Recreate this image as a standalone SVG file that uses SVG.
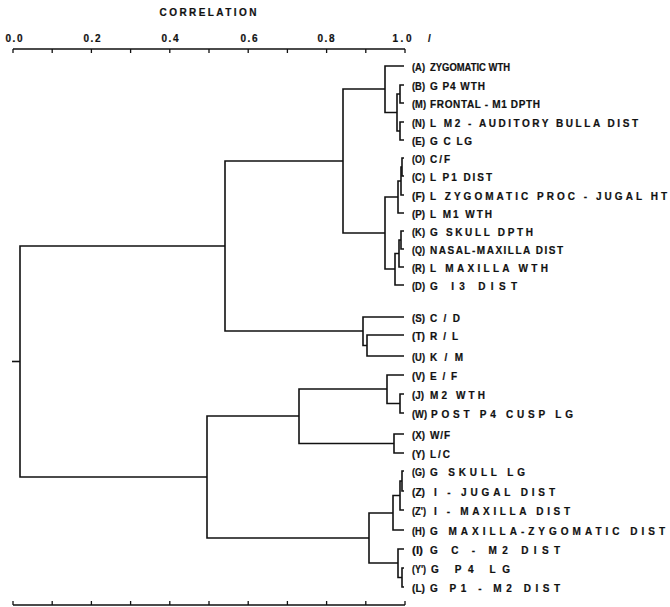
<svg xmlns="http://www.w3.org/2000/svg" width="670" height="607" viewBox="0 0 670 607">
<style>
text{font-family:"Liberation Sans",Arial,sans-serif;font-weight:bold;font-size:10px;fill:#111;stroke:#111;stroke-width:0.2}
.ax{text-anchor:middle}
.ln{fill:none;stroke:#111;stroke-width:1.6;stroke-linejoin:miter}
.axl{fill:none;stroke:#111;stroke-width:1.3}
</style>
<rect width="670" height="607" fill="#fff"/>
<g id="axis-top">
<text x="208" y="16" class="ax" textLength="97" lengthAdjust="spacing">CORRELATION</text>
<text x="14" y="42" class="ax" textLength="17" lengthAdjust="spacing">0.0</text>
<text x="92" y="42" class="ax" textLength="17" lengthAdjust="spacing">0.2</text>
<text x="170" y="42" class="ax" textLength="17" lengthAdjust="spacing">0.4</text>
<text x="249" y="42" class="ax" textLength="17" lengthAdjust="spacing">0.6</text>
<text x="326" y="42" class="ax" textLength="17" lengthAdjust="spacing">0.8</text>
<text x="402" y="42" class="ax" textLength="19" lengthAdjust="spacing">1.0</text>
<text x="428" y="42">/</text>
<path class="axl" d="M13 49H405M13 49v4M52.2 49v4M91.4 49v4M130.6 49v4M169.8 49v4M209 49v4M248.2 49v4M287.4 49v4M326.6 49v4M365.8 49v4M405 49v4"/>
</g>
<g id="axis-bottom">
<path class="axl" d="M13 605H405M13 605v-4M52.2 605v-4M91.4 605v-4M130.6 605v-4M169.8 605v-4M209 605v-4M248.2 605v-4M287.4 605v-4M326.6 605v-4M365.8 605v-4M405 605v-4"/>
</g>
<g id="connectors">
<path class="ln" d="M404 66H385V112.5H397"/>
<path class="ln" d="M400 94H397V131H400"/>
<path class="ln" d="M404 85H400V103H404"/>
<path class="ln" d="M404 122H400V140H404"/>
<path class="ln" d="M385 89H343V233H385"/>
<path class="ln" d="M398 197H385V269H395"/>
<path class="ln" d="M401 181H398V213H404"/>
<path class="ln" d="M402 167H401V195H404"/>
<path class="ln" d="M404 158H402V176H404"/>
<path class="ln" d="M399 253.5H395V285H404"/>
<path class="ln" d="M401 240H399V267H404"/>
<path class="ln" d="M404 231H401V249H404"/>
<path class="ln" d="M404 317H363V345.5H367"/>
<path class="ln" d="M404 335H367V356H404"/>
<path class="ln" d="M343 161H225V331H363"/>
<path class="ln" d="M387 389H299V443.5H394"/>
<path class="ln" d="M404 375H387V403.5H400"/>
<path class="ln" d="M404 394H400V413H404"/>
<path class="ln" d="M404 434H394V453H404"/>
<path class="ln" d="M393 513H369V563H398"/>
<path class="ln" d="M400 495.5H393V530H404"/>
<path class="ln" d="M402 481H400V510H404"/>
<path class="ln" d="M404 471H402V491H404"/>
<path class="ln" d="M404 549H398V577.5H402"/>
<path class="ln" d="M404 568H402V587H404"/>
<path class="ln" d="M299 416H207V538H369"/>
<path class="ln" d="M225 246H20V477H207"/>
<path class="ln" d="M12 361.5H20"/>
</g>
<g id="node-A"><text x="412" y="71" textLength="13" lengthAdjust="spacingAndGlyphs">(A)</text><text x="430" y="71" textLength="80" lengthAdjust="spacingAndGlyphs">ZYGOMATIC WTH</text></g>
<g id="node-B"><text x="412" y="90" textLength="13" lengthAdjust="spacingAndGlyphs">(B)</text><text x="430" y="90" textLength="55" lengthAdjust="spacing">G P4 WTH</text></g>
<g id="node-M"><text x="412" y="108" textLength="14" lengthAdjust="spacingAndGlyphs">(M)</text><text x="430" y="108" textLength="110" lengthAdjust="spacing">FRONTAL - M1 DPTH</text></g>
<g id="node-N"><text x="412" y="127" textLength="13" lengthAdjust="spacingAndGlyphs">(N)</text><text x="430" y="127" textLength="208" lengthAdjust="spacing">L M2 - AUDITORY BULLA DIST</text></g>
<g id="node-E"><text x="412" y="145" textLength="13" lengthAdjust="spacingAndGlyphs">(E)</text><text x="430" y="145" textLength="42" lengthAdjust="spacing">G C LG</text></g>
<g id="node-O"><text x="412" y="163" textLength="13" lengthAdjust="spacingAndGlyphs">(O)</text><text x="430" y="163" textLength="20" lengthAdjust="spacing">C/F</text></g>
<g id="node-C"><text x="412" y="181" textLength="13" lengthAdjust="spacingAndGlyphs">(C)</text><text x="430" y="181" textLength="62" lengthAdjust="spacing">L P1 DIST</text></g>
<g id="node-F"><text x="412" y="200" textLength="13" lengthAdjust="spacingAndGlyphs">(F)</text><text x="430" y="200" textLength="237" lengthAdjust="spacing">L ZYGOMATIC PROC - JUGAL HT</text></g>
<g id="node-P"><text x="412" y="218" textLength="13" lengthAdjust="spacingAndGlyphs">(P)</text><text x="430" y="218" textLength="62" lengthAdjust="spacing">L M1 WTH</text></g>
<g id="node-K"><text x="412" y="236" textLength="13" lengthAdjust="spacingAndGlyphs">(K)</text><text x="430" y="236" textLength="103" lengthAdjust="spacing">G SKULL DPTH</text></g>
<g id="node-Q"><text x="412" y="254" textLength="13" lengthAdjust="spacingAndGlyphs">(Q)</text><text x="430" y="254" textLength="133" lengthAdjust="spacing">NASAL-MAXILLA DIST</text></g>
<g id="node-R"><text x="412" y="272" textLength="13" lengthAdjust="spacingAndGlyphs">(R)</text><text x="430" y="272" textLength="118" lengthAdjust="spacing">L MAXILLA WTH</text></g>
<g id="node-D"><text x="412" y="290" textLength="13" lengthAdjust="spacingAndGlyphs">(D)</text><text x="430" y="290" textLength="87" lengthAdjust="spacing">G I3 DIST</text></g>
<g id="node-S"><text x="412" y="322" textLength="13" lengthAdjust="spacingAndGlyphs">(S)</text><text x="430" y="322" textLength="30" lengthAdjust="spacing">C / D</text></g>
<g id="node-T"><text x="412" y="340" textLength="13" lengthAdjust="spacingAndGlyphs">(T)</text><text x="430" y="340" textLength="28" lengthAdjust="spacing">R / L</text></g>
<g id="node-U"><text x="412" y="361" textLength="13" lengthAdjust="spacingAndGlyphs">(U)</text><text x="430" y="361" textLength="33" lengthAdjust="spacing">K / M</text></g>
<g id="node-V"><text x="412" y="380" textLength="13" lengthAdjust="spacingAndGlyphs">(V)</text><text x="430" y="380" textLength="27" lengthAdjust="spacing">E / F</text></g>
<g id="node-J"><text x="412" y="399" textLength="12" lengthAdjust="spacingAndGlyphs">(J)</text><text x="430" y="399" textLength="55" lengthAdjust="spacing">M2 WTH</text></g>
<g id="node-W"><text x="412" y="418" textLength="15" lengthAdjust="spacingAndGlyphs">(W)</text><text x="431" y="418" textLength="142" lengthAdjust="spacing">POST P4 CUSP LG</text></g>
<g id="node-X"><text x="412" y="439" textLength="13" lengthAdjust="spacingAndGlyphs">(X)</text><text x="430" y="439" textLength="20" lengthAdjust="spacing">W/F</text></g>
<g id="node-Y"><text x="412" y="458" textLength="13" lengthAdjust="spacingAndGlyphs">(Y)</text><text x="430" y="458" textLength="20" lengthAdjust="spacing">L/C</text></g>
<g id="node-G"><text x="412" y="476" textLength="13" lengthAdjust="spacingAndGlyphs">(G)</text><text x="430" y="476" textLength="95" lengthAdjust="spacing">G SKULL LG</text></g>
<g id="node-Z"><text x="412" y="496" textLength="13" lengthAdjust="spacingAndGlyphs">(Z)</text><text x="434" y="496" textLength="121" lengthAdjust="spacing">I - JUGAL DIST</text></g>
<g id="node-Z1"><text x="412" y="515" textLength="14" lengthAdjust="spacingAndGlyphs">(Z')</text><text x="434" y="515" textLength="136" lengthAdjust="spacing">I - MAXILLA DIST</text></g>
<g id="node-H"><text x="412" y="535" textLength="13" lengthAdjust="spacingAndGlyphs">(H)</text><text x="430" y="535" textLength="235" lengthAdjust="spacing">G MAXILLA-ZYGOMATIC DIST</text></g>
<g id="node-I"><text x="412" y="554" textLength="11" lengthAdjust="spacingAndGlyphs">(I)</text><text x="430" y="554" textLength="130" lengthAdjust="spacing">G C - M2 DIST</text></g>
<g id="node-Y1"><text x="412" y="573" textLength="14" lengthAdjust="spacingAndGlyphs">(Y')</text><text x="431" y="573" textLength="79" lengthAdjust="spacing">G P4 LG</text></g>
<g id="node-L"><text x="412" y="592" textLength="13" lengthAdjust="spacingAndGlyphs">(L)</text><text x="430" y="592" textLength="130" lengthAdjust="spacing">G P1 - M2 DIST</text></g>
</svg>
